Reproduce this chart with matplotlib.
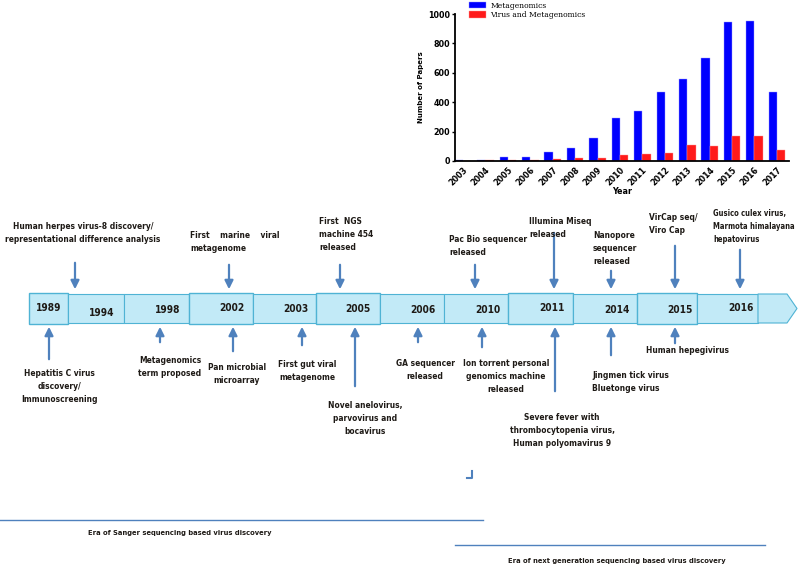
import matplotlib.pyplot as plt
import matplotlib.patches as mpatches
from matplotlib import font_manager
import numpy as np

# =========================================================
# DATA
# =========================================================

years = ["2003", "2004", "2005", "2006", "2007", "2008", "2009", "2010",
         "2011", "2012", "2013", "2014", "2015", "2016", "2017"]

metagenomics = [8, 10, 30, 30, 58, 88, 155, 295, 340, 472, 558, 698, 945, 955, 472]

virus_metagenomics = [2, 10, 10, 10, 12, 20, 22, 40, 50, 55, 112, 103, 172, 172, 78]

timeline_years = ["1989", "1994", "1998", "2002", "2003", "2005",
                  "2006", "2010", "2011", "2014", "2015", "2016"]

top_events = [
    "Human herpes virus-8 discovery/\nrepresentational difference analysis",
    "First    marine    viral\nmetagenome",
    "First  NGS\nmachine 454\nreleased",
    "Pac Bio sequencer\nreleased",
    "Illumina Miseq\nreleased",
    "Nanopore\nsequencer\nreleased",
    "VirCap seq/\nViro Cap",
    "Gusico culex virus,\nMarmota himalayana\nhepatovirus",
]

bottom_events = [
    "Hepatitis C virus\ndiscovery/\nImmunoscreening",
    "Metagenomics\nterm proposed",
    "Pan microbial\nmicroarray",
    "First gut viral\nmetagenome",
    "Novel anelovirus,\nparvovirus and\nbocavirus",
    "GA sequencer\nreleased",
    "Ion torrent personal\ngenomics machine\nreleased",
    "Severe fever with\nthrombocytopenia virus,\nHuman polyomavirus 9",
    "Jingmen tick virus\nBluetonge virus",
    "Human hepegivirus",
]

eras = ["Era of Sanger sequencing based virus discovery",
        "Era of next generation sequencing based virus discovery"]

# =========================================================
# LAYOUT (pixel space of the figure)
# =========================================================

box_edges = [29, 68, 124, 189, 253, 316, 380, 444, 508, 573, 637, 697, 758]
raised = [True, False, False, True, False, True, False, False, True, False, True, False]
label_xy = [(49, 308), (102, 313), (168, 310), (232, 308), (296, 309), (358, 309),
            (423, 310), (488, 310), (552, 308), (617, 310), (680, 310), (741, 308)]

# arrow x, arrow tail y, text x, text top y, alignment, size factor
top_layout = [
    (75, 260, 83, 222, "center", 1.0),
    (229, 262, 190, 231, "left", 1.0),
    (340, 262, 319, 217, "left", 1.0),
    (475, 262, 449, 235, "left", 1.0),
    (554, 230, 529, 217, "left", 1.0),
    (611, 268, 593, 231, "left", 1.0),
    (675, 243, 649, 213, "left", 1.0),
    (740, 247, 713, 209, "left", 0.92),
]

bottom_layout = [
    (49, 362, 59, 369, "center", 1.0),
    (160, 345, 170, 356, "center", 1.0),
    (233, 354, 237, 363, "center", 1.0),
    (302, 348, 307, 360, "center", 1.0),
    (355, 389, 365, 401, "center", 1.0),
    (418, 345, 425, 359, "center", 1.0),
    (482, 350, 506, 359, "center", 1.0),
    (555, 394, 562, 413, "center", 1.0),
    (611, 358, 592, 371, "left", 1.0),
    (675, 346, 646, 346, "left", 1.0),
]

ARROW = "#4f81bd"
TEXT = "#1e1a16"

# narrow bold face if there is one
_probe = font_manager.findfont(font_manager.FontProperties(
    family="DejaVu Sans", stretch="condensed", weight="bold"))
if "Condensed" in _probe:
    FONT = dict(family="DejaVu Sans", stretch="condensed")
    SIZE = 6.0
else:
    FONT = dict(family="DejaVu Sans")
    SIZE = 5.5

# =========================================================
# FIGURE
# =========================================================

fig = plt.figure(figsize=(8, 5.67), dpi=100)

ax = fig.add_axes([0, 0, 1, 1])
ax.set_xlim(0, 800)
ax.set_ylim(567, 0)
ax.axis("off")

# timeline band
band_top, band_bot = 294, 323
for i in range(len(timeline_years)):
    x0, x1 = box_edges[i], box_edges[i + 1]
    y0 = band_top - (1.5 if raised[i] else 0)
    y1 = band_bot + (0.5 if raised[i] else 0)
    ax.add_patch(mpatches.Rectangle((x0, y0), x1 - x0, y1 - y0,
                                    facecolor="#c2eaf7", edgecolor="#4fb3d4",
                                    linewidth=1.0 if raised[i] else 0.8,
                                    zorder=2))
    lx, ly = label_xy[i]
    ax.text(lx, ly, timeline_years[i], ha="center", va="center",
            fontsize=SIZE + 1.3, fontweight="bold", color=TEXT, zorder=3, **FONT)

# arrow tip at end
ax.add_patch(mpatches.Polygon([(758, band_top), (787, band_top), (797, (band_top + band_bot) / 2),
                               (787, band_bot), (758, band_bot)],
                              facecolor="#c2eaf7", edgecolor="#4fb3d4", linewidth=0.8, zorder=2))

# top events
for text, (ax_x, tail, tx, ty, ha, fs) in zip(top_events, top_layout):
    ax.annotate("", xy=(ax_x, 292), xytext=(ax_x, tail),
                arrowprops=dict(arrowstyle="-|>,head_width=0.25,head_length=0.5",
                                color=ARROW, lw=1.6))
    ax.text(tx, ty, text, ha=ha, va="top", fontsize=SIZE * fs, fontweight="bold",
            color=TEXT, linespacing=1.6, **FONT)

# bottom events
for text, (ax_x, tail, tx, ty, ha, fs) in zip(bottom_events, bottom_layout):
    ax.annotate("", xy=(ax_x, 324), xytext=(ax_x, tail),
                arrowprops=dict(arrowstyle="-|>,head_width=0.25,head_length=0.5",
                                color=ARROW, lw=1.6))
    ax.text(tx, ty, text, ha=ha, va="top", fontsize=SIZE * fs, fontweight="bold",
            color=TEXT, linespacing=1.6, **FONT)

# small stray mark
ax.plot([472, 472, 467], [471, 478, 478], color=ARROW, lw=1.5)

# eras
ax.plot([0, 483], [520, 520], color="#4f81bd", lw=1.0)
ax.text(180, 533, eras[0], ha="center", va="center", fontsize=SIZE - 0.6,
        fontweight="bold", color=TEXT, **FONT)
ax.plot([455, 765], [545, 545], color="#4f81bd", lw=1.0)
ax.text(617, 561, eras[1], ha="center", va="center", fontsize=SIZE - 0.6,
        fontweight="bold", color=TEXT, **FONT)

# =========================================================
# BAR CHART (inset)
# =========================================================

bx = fig.add_axes([455 / 800, (567 - 161) / 567, (789 - 455) / 800, (161 - 14) / 567])

x = np.arange(len(years))
w = 0.37
bx.bar(x - w / 2, metagenomics, w, color="#0000ff", edgecolor="#9999ff",
       linewidth=0.3, label="Metagenomics")
bx.bar(x + w / 2, virus_metagenomics, w, color="#ff1a1a", edgecolor="#ff9999",
       linewidth=0.3, label="Virus and Metagenomics")

bx.set_xlim(-0.36, len(years) - 0.46)
bx.set_ylim(0, 1000)
bx.set_yticks([0, 200, 400, 600, 800, 1000])
bx.set_xticks(x)
bx.set_xticklabels(years, rotation=45, ha="right", rotation_mode="anchor")
for lab in bx.get_xticklabels() + bx.get_yticklabels():
    lab.set_fontsize(5.8)
    lab.set_fontweight("bold")
bx.tick_params(length=2, width=1, pad=1.5)
bx.tick_params(axis="x", length=0, pad=3)

bx.spines["top"].set_visible(False)
bx.spines["right"].set_visible(False)
bx.spines["left"].set_linewidth(1.3)
bx.spines["bottom"].set_linewidth(1.3)

bx.set_xlabel("Year", fontsize=5.8, fontweight="bold", labelpad=0)
bx.set_ylabel("Number of Papers", fontsize=5, fontweight="bold", labelpad=3)

bx.legend(loc="upper left", bbox_to_anchor=(0.03, 1.11), frameon=False,
          prop={"family": "serif", "size": 5.5}, handlelength=2.2,
          handleheight=1.0, labelspacing=0.2, borderpad=0, handletextpad=0.6)

plt.savefig("out.png", dpi=100)
